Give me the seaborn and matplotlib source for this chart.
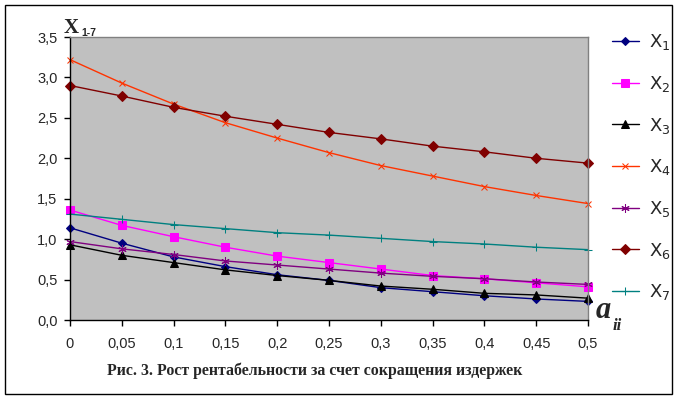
import matplotlib
matplotlib.use("Agg")
import matplotlib.pyplot as plt
import matplotlib.patches as patches
from matplotlib.ticker import FuncFormatter
import seaborn as sns
import pandas as pd

a_ii = [0, 0.05, 0.1, 0.15, 0.2, 0.25, 0.3, 0.35, 0.4, 0.45, 0.5]
x1 = [1.14, 0.95, 0.78, 0.66, 0.56, 0.49, 0.40, 0.35, 0.30, 0.26, 0.23]
x2 = [1.36, 1.17, 1.03, 0.90, 0.79, 0.71, 0.63, 0.55, 0.51, 0.46, 0.41]
x3 = [0.93, 0.80, 0.71, 0.62, 0.55, 0.49, 0.42, 0.38, 0.33, 0.31, 0.27]
x4 = [3.22, 2.93, 2.67, 2.44, 2.25, 2.07, 1.91, 1.78, 1.65, 1.54, 1.44]
x5 = [0.97, 0.88, 0.81, 0.73, 0.68, 0.63, 0.58, 0.54, 0.51, 0.47, 0.44]
x6 = [2.90, 2.77, 2.63, 2.52, 2.42, 2.32, 2.24, 2.15, 2.08, 2.00, 1.94]
x7 = [1.31, 1.245, 1.18, 1.13, 1.08, 1.05, 1.01, 0.97, 0.94, 0.90, 0.87]

series = [x1, x2, x3, x4, x5, x6, x7]
labels = [r"$\mathrm{X}_{%d}$" % i for i in range(1, 8)]
colors = ["#000080", "#FF00FF", "#000000", "#FF3300", "#800080", "#800000", "#008080"]
markers = ["D", "s", "^", "x", (6, 2, 0), "D", "+"]
msizes = [4, 6, 6, 5, 6, 5, 6]

sns.set_style("white")
plt.rcParams["font.family"] = ["Liberation Sans", "DejaVu Sans"]

fig = plt.figure(figsize=(6.77, 3.99), dpi=100)
ax = fig.add_axes([70 / 677, 1 - 320 / 399, 518 / 677, 283 / 399])
ax.set_facecolor("#C0C0C0")

for vals, lab, c, m, ms in zip(series, labels, colors, markers, msizes):
    df = pd.DataFrame({"a": a_ii, "x": vals})
    sns.lineplot(data=df, x="a", y="x", ax=ax, color=c, marker=m, markersize=ms,
                 markeredgecolor=c, markerfacecolor=c, linewidth=1, label=lab,
                 clip_on=False)

ax.set_xlim(0, 0.5)
ax.set_ylim(0, 3.5)
ax.set_xticks(a_ii)
ax.set_yticks([0, 0.5, 1, 1.5, 2, 2.5, 3, 3.5])
ax.xaxis.set_major_formatter(FuncFormatter(lambda v, p: ("%g" % round(v, 2)).replace(".", ",")))
ax.yaxis.set_major_formatter(FuncFormatter(lambda v, p: ("%.1f" % v).replace(".", ",")))
ax.tick_params(axis="both", which="major", direction="out", length=4, width=1,
               labelsize=10.5, color="black", bottom=True, left=True)
ax.tick_params(axis="y", pad=5)
ax.tick_params(axis="x", pad=8)
ax.set_xlabel("")
ax.set_ylabel("")
for s in ["left", "bottom"]:
    ax.spines[s].set_color("black")
    ax.spines[s].set_linewidth(1)
for s in ["top", "right"]:
    ax.spines[s].set_color("#808080")
    ax.spines[s].set_linewidth(1)

leg = ax.legend(loc="upper left", bbox_to_anchor=(1.032, 1.042), frameon=False,
                fontsize=13, handlelength=1.5, handletextpad=0.55, labelspacing=1.2,
                borderaxespad=0)

# y label X_{1-7}
fig.text(64 / 677, 1 - 33 / 399, "X", family="Liberation Serif", weight="bold", fontsize=15)
fig.text(81 / 677, 1 - 36 / 399, "1-7", weight="bold", fontsize=7.5)
# x label a_ii
fig.text(596 / 677, 1 - 318 / 399, "a", family="Liberation Serif", style="italic",
         weight="bold", fontsize=22)
fig.text(613 / 677, 1 - 330 / 399, "ii", family="Liberation Serif", style="italic",
         weight="bold", fontsize=12)

fig.text(315 / 677, 1 - 371 / 399, "Рис. 3. Рост рентабельности за счет сокращения издержек",
         family="Liberation Serif", weight="bold", fontsize=11.4, ha="center", va="center")

fig.add_artist(patches.Rectangle((5 / 677, 5 / 399), 667 / 677, 389 / 399,
                                 transform=fig.transFigure, fill=False,
                                 edgecolor="black", linewidth=1))

fig.savefig("out.png", dpi=100)
